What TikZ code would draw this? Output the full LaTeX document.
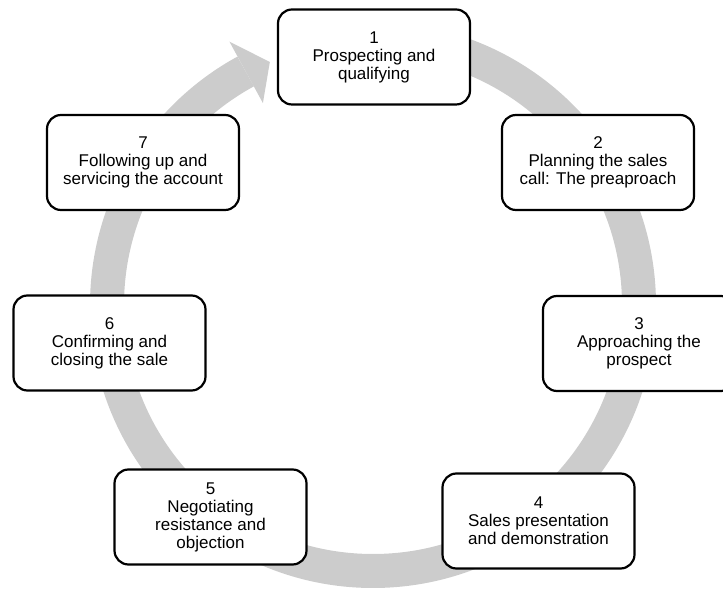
\documentclass[tikz,border=0pt]{standalone}
\usepackage{fontspec}
\setmainfont{Liberation Sans}
\definecolor{ringgray}{HTML}{CCCCCC}
\begin{document}
\begin{tikzpicture}[x=1pt,y=1pt,
  stage/.style={draw=black, line width=2.2pt, fill=white, rounded corners=14pt,
    minimum width=192pt, minimum height=95pt, inner sep=0pt, align=center,
    font=\fontsize{17}{18}\selectfont},
  ringline/.style={draw=ringgray, line width=34pt, line cap=butt}]
\useasboundingbox (0,0) rectangle (723,589);
\coordinate (c) at (373,284);
% cycle ring with arrow
\draw[ringline] ([shift={(90:266pt)}]c) arc[start angle=90, end angle=-241.4, radius=266pt];
\fill[ringgray] ([shift={(118.6:300pt)}]c) -- ([shift={(113:264pt)}]c) -- ([shift={(118.6:230pt)}]c) -- cycle;
% stages
\node[stage] (s1) at (374,532) {1\\Prospecting and\\qualifying};
\node[stage] (s2) at (598,426.5) {2\\Planning the sales\\call: The preaproach};
\node[stage] (s3) at (639,245.5) {3\\Approaching the\\prospect};
\node[stage] (s4) at (538.5,68) {4\\Sales presentation\\and demonstration};
\node[stage] (s5) at (210.5,72) {5\\Negotiating\\resistance and\\objection};
\node[stage] (s6) at (109.5,246) {6\\Confirming and\\closing the sale};
\node[stage] (s7) at (143,426.5) {7\\Following up and\\servicing the account};
\end{tikzpicture}
\end{document}
